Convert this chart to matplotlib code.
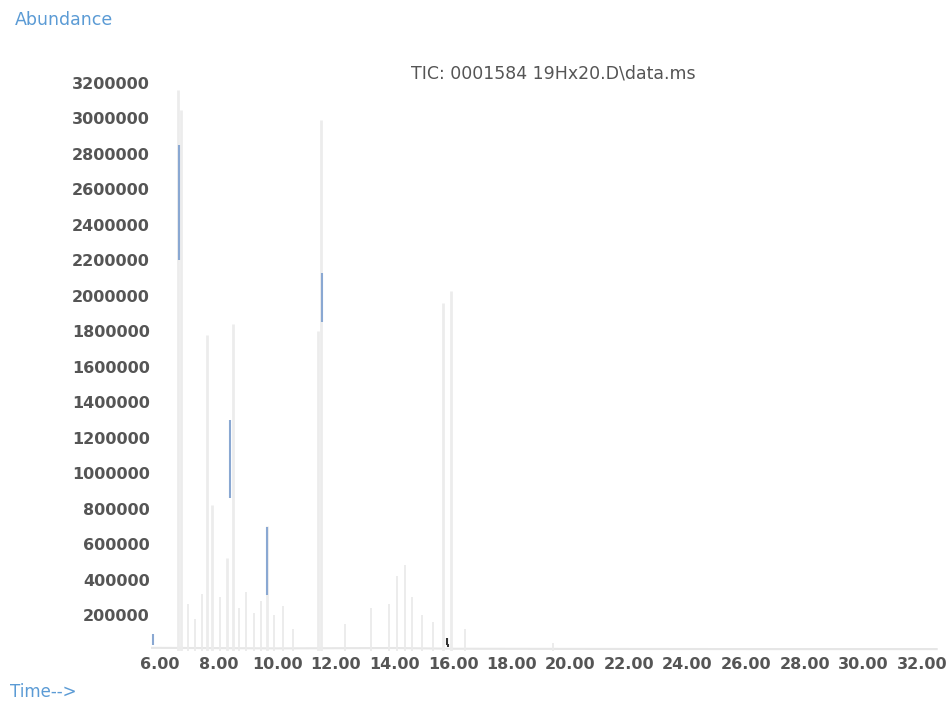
import numpy as np
import matplotlib.pyplot as plt

# --- data (time in min, abundance) ---
peak_times = [6.62, 6.72, 7.60, 7.77, 8.28, 8.49, 9.65, 11.39, 11.49, 15.65, 15.93]
peak_heights = [3160000, 3050000, 1780000, 820000, 520000, 1840000, 700000, 1800000, 2990000, 1960000, 2030000]

blue_times = [5.75, 6.66, 8.40, 9.65, 11.52]
blue_lo = [30000, 2200000, 860000, 313000, 1850000]
blue_hi = [95000, 2850000, 1300000, 696000, 2130000]

minor_times = [6.95, 7.20, 7.45, 8.05, 8.70, 8.95, 9.20, 9.45, 9.90, 10.20, 10.55,
               12.30, 13.20, 13.80, 14.10, 14.35, 14.60, 14.95, 15.30, 16.40, 19.40]
minor_heights = [260000, 180000, 320000, 300000, 240000, 330000, 210000, 280000, 200000, 250000, 120000,
                 150000, 240000, 260000, 420000, 480000, 300000, 200000, 160000, 120000, 40000]

dark_times = [15.78, 15.84]
dark_lo = [30000, 20000]
dark_hi = [70000, 35000]

base_times = [5.7, 10.0, 14.0, 16.0, 20.0, 26.0, 32.5]
base_vals = [15000, 12000, 14000, 10000, 9000, 8000, 8000]

y_ticks = list(range(200000, 3200001, 200000))
x_ticks = list(range(6, 33, 2))

# --- figure ---
fig = plt.figure(figsize=(9.5, 7.01), dpi=100)
ax = fig.add_axes([151.2 / 950, (701 - 650.5) / 701, 788.4 / 950, 585.2 / 701])

ax.plot(base_times, base_vals, color='#e6e6e6', lw=1.5)
ax.vlines(peak_times, 0, peak_heights, color='#ececec', lw=2.0)
ax.vlines(minor_times, 0, minor_heights, color='#ebebeb', lw=1.3)
ax.vlines(blue_times, blue_lo, blue_hi, color='#8aa8d2', lw=1.5)
ax.vlines(dark_times, dark_lo, dark_hi, color='#333333', lw=1.5)

ax.set_xlim(5.7, 32.6)
ax.set_ylim(0, 3300000)
ax.set_xticks(x_ticks)
ax.set_xticklabels([f"{t:.2f}" for t in x_ticks])
ax.set_yticks(y_ticks)
ax.set_yticklabels([str(v) for v in y_ticks])
ax.tick_params(length=0, labelsize=11.5, labelcolor='#555555')
ax.tick_params(axis='x', pad=5)
ax.tick_params(axis='y', pad=1)
for lab in ax.get_xticklabels() + ax.get_yticklabels():
    lab.set_fontweight('bold')
for s in ax.spines.values():
    s.set_visible(False)

fig.text(553 / 950, 1 - 73 / 701, "TIC: 0001584 19Hx20.D\\data.ms",
         ha='center', va='center', fontsize=12.5, color='#555555')
fig.text(15 / 950, 1 - 20 / 701, "Abundance", ha='left', va='center',
         fontsize=12.5, color='#5b9bd5')
fig.text(10 / 950, 1 - 692 / 701, "Time-->", ha='left', va='center',
         fontsize=12, color='#5b9bd5')

fig.savefig("out.png", dpi=100)
